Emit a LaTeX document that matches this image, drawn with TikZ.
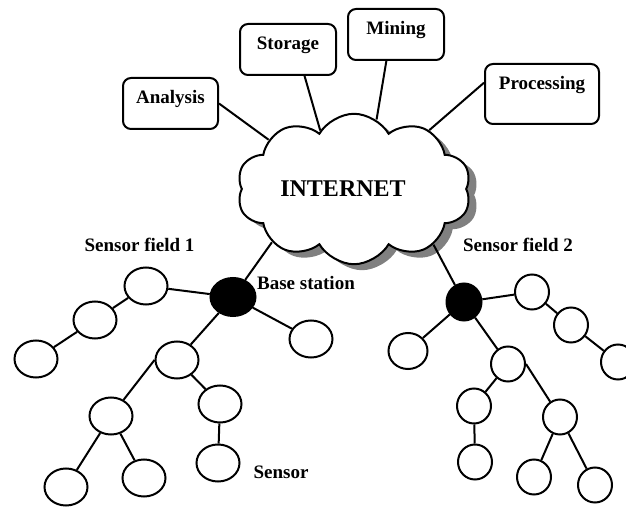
\documentclass[tikz,border=0pt]{standalone}
\usepackage{fontspec}
\setmainfont{Liberation Serif}
\usetikzlibrary{shapes, shapes.geometric, shapes.symbols, shadows}

\begin{document}
\begin{tikzpicture}[x=0.5pt, y=-0.5pt, line width=1pt, font=\bfseries\fontsize{9.5}{11}\selectfont,
    task/.style={draw, rounded corners=4pt, anchor=north, inner sep=0pt, minimum width=48pt, text height=12.7pt, text depth=12.8pt},
    sens/.style={draw, ellipse, inner sep=0pt, minimum width=21.5pt, minimum height=18.5pt},
    senss/.style={sens, minimum width=17pt, minimum height=17.5pt},
    base/.style={draw, ellipse, fill=black, inner sep=0pt},
    txt/.style={inner sep=0pt}]

\useasboundingbox (0,0) rectangle (626,507);

% tasks on top
\node [task, minimum width=47.5pt] (an) at (170.5,77) {Analysis};
\node [task] (st) at (288,23) {Storage};
\node [task] (mi) at (396,8) {Mining};
\node [task, minimum width=57pt, text depth=17.3pt] (pr) at (542,63) {Processing};

\node [draw, cloud, cloud puffs=10, cloud puff arc=120, aspect=1.75, inner sep=0pt, minimum width=117pt, minimum height=65pt, fill=white,
       drop shadow={shadow xshift=4pt, shadow yshift=-3pt, fill=black!50, opacity=1},
       font=\bfseries\fontsize{12}{14}\selectfont] (cl) at (354,189) {INTERNET\hspace*{11pt}};

\draw (an.east) -- (cl.150);
\draw (st.-58) -- (cl.120);
\draw (mi.250) -- (cl.72);
\draw (pr.169) -- (cl.38);

% sensor field 1
\node [base, minimum width=22.5pt, minimum height=19pt] (bs1) at (233,297) {};
\node [sens] (f1a) at (146,286) {};
\node [sens] (f1b) at (95,320) {};
\node [sens] (f1c) at (36,359) {};
\node [sens] (f1d) at (311,339) {};
\node [sens] (f1e) at (177,360) {};
\node [sens] (f1f) at (111,416) {};
\node [sens] (f1g) at (220,404) {};
\node [sens] (f1h) at (66,487) {};
\node [sens] (f1i) at (144,478) {};
\node [sens] (f1j) at (218,463) {};

\draw (bs1) -- (cl.213);
\draw (bs1) -- (f1a);
\draw (f1a) -- (f1b);
\draw (f1b) -- (f1c);
\draw (bs1) -- (f1d);
\draw (bs1) -- (f1e);
\draw (f1e.west) -- (f1f);
\draw (f1e) -- (f1g);
\draw (f1g) -- (f1j);
\draw (f1f) -- (f1h);
\draw (f1f) -- (f1i);

% sensor field 2
\node [base, minimum width=17.5pt, minimum height=18.5pt] (bs2) at (464,302) {};
\node [senss] (f2a) at (532,292) {};
\node [senss] (f2b) at (571,325) {};
\node [senss] (f2c) at (618,362) {};
\node [senss, minimum width=19.5pt, minimum height=18pt] (f2d) at (408,351) {};
\node [senss] (f2e) at (508,364) {};
\node [senss] (f2f) at (474,406) {};
\node [senss] (f2g) at (560,417) {};
\node [senss] (f2h) at (475,462) {};
\node [senss] (f2i) at (534,477) {};
\node [senss] (f2j) at (595,485) {};

\draw (bs2) -- (cl.325);
\draw (bs2) -- (f2a);
\draw (f2a) -- (f2b);
\draw (f2b) -- (f2c);
\draw (bs2) -- (f2d);
\draw (bs2) -- (f2e);
\draw (f2e) -- (f2f);
\draw (f2e.east) -- (f2g);
\draw (f2f) -- (f2h);
\draw (f2g) -- (f2i);
\draw (f2g) -- (f2j);

\node [txt] (lf1) at (139.5,245) {Sensor field 1};
\node [txt] (lbs) at (306,283) {Base station};
\node [txt] (lsn) at (281,472) {Sensor};
\node [txt] (lf2) at (518,245) {Sensor field 2};

\end{tikzpicture}
\end{document}
